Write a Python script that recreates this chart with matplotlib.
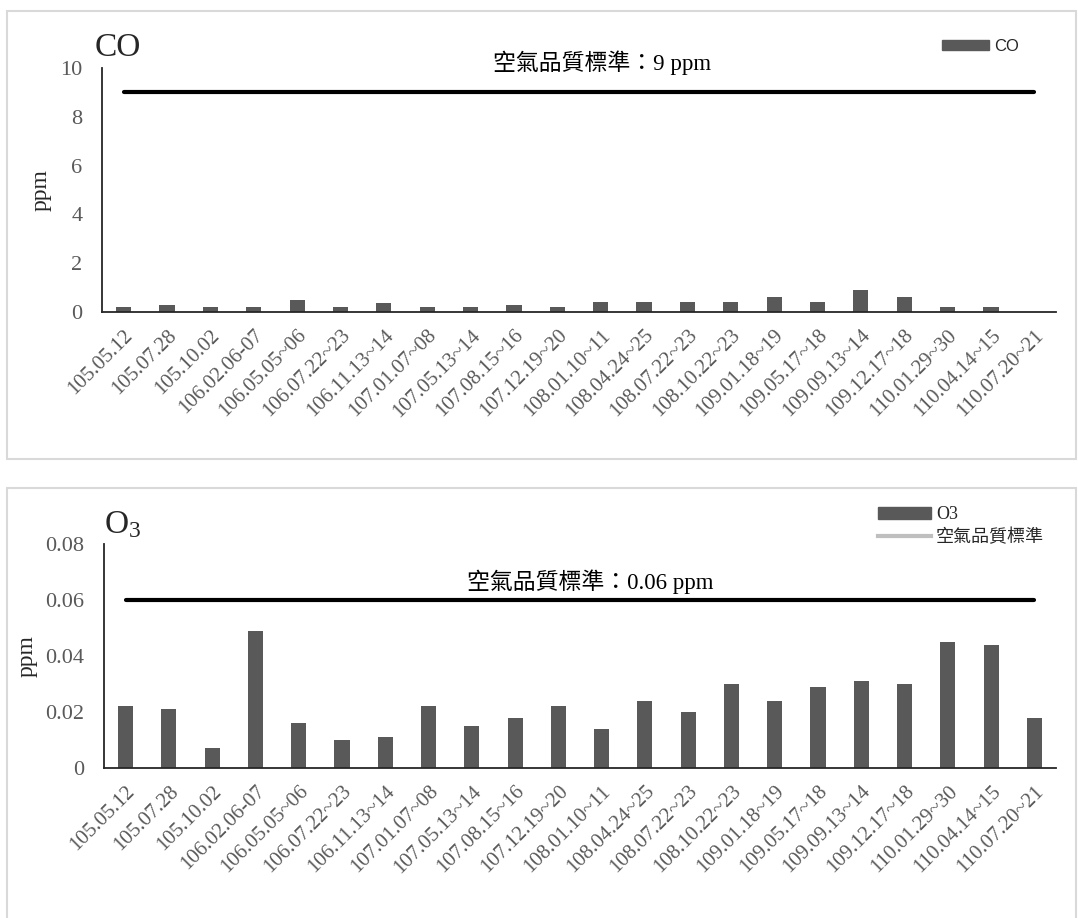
import numpy as np
import matplotlib
matplotlib.use('Agg')
import matplotlib.pyplot as plt
from matplotlib.patches import Rectangle, Patch
from matplotlib.lines import Line2D

plt.rcParams['font.family'] = ['Liberation Serif', 'Noto Sans CJK TC', 'DejaVu Sans']
plt.rcParams['mathtext.fontset'] = 'custom'
plt.rcParams['mathtext.rm'] = 'Liberation Serif'
plt.rcParams['mathtext.it'] = 'Liberation Serif:italic'

dates = ['105.05.12', '105.07.28', '105.10.02', '106.02.06-07', '106.05.05~06',
         '106.07.22~23', '106.11.13~14', '107.01.07~08', '107.05.13~14', '107.08.15~16',
         '107.12.19~20', '108.01.10~11', '108.04.24~25', '108.07.22~23', '108.10.22~23',
         '109.01.18~19', '109.05.17~18', '109.09.13~14', '109.12.17~18', '110.01.29~30',
         '110.04.14~15', '110.07.20~21']
co = [0.2, 0.3, 0.2, 0.2, 0.5, 0.2, 0.35, 0.2, 0.2, 0.3, 0.2,
      0.4, 0.4, 0.4, 0.4, 0.6, 0.4, 0.9, 0.6, 0.2, 0.2, 0.0]
o3 = [0.022, 0.021, 0.007, 0.049, 0.016, 0.010, 0.011, 0.022, 0.015, 0.018, 0.022,
      0.014, 0.024, 0.020, 0.030, 0.024, 0.029, 0.031, 0.030, 0.045, 0.044, 0.018]
co_std = 9
o3_std = 0.06

W, H = 1078, 918
fig = plt.figure(figsize=(W / 100, H / 100), dpi=100)

def fx(x):
    return x / W

def fy(y):
    return 1 - y / H

bar_color = '#595959'
tick_color = '#595959'
x = np.arange(len(dates))

# panel frames
fig.add_artist(Rectangle((fx(7), fy(459)), fx(1069), (459 - 11) / H, transform=fig.transFigure,
                         fill=False, edgecolor='#d9d9d9', lw=1.5))
fig.add_artist(Rectangle((fx(7), fy(930)), fx(1069), (930 - 488) / H, transform=fig.transFigure,
                         fill=False, edgecolor='#d9d9d9', lw=1.5))


def style_axes(ax, ymax, yticks, yfmt):
    ax.set_xlim(-0.5, len(dates) - 0.5)
    ax.set_ylim(0, ymax)
    ax.set_yticks(yticks)
    ax.set_yticklabels([yfmt(v) for v in yticks])
    ax.set_xticks(x)
    ax.set_xticklabels(dates, rotation=45, ha='right', rotation_mode='anchor')
    for s in ['top', 'right']:
        ax.spines[s].set_visible(False)
    for s in ['left', 'bottom']:
        ax.spines[s].set_color('#262626')
        ax.spines[s].set_linewidth(1.3)
    ax.tick_params(axis='y', length=0, pad=14, labelsize=16, labelcolor=tick_color)
    ax.tick_params(axis='x', length=0, pad=10, labelsize=15, labelcolor=tick_color)
    ax.set_ylabel('ppm', fontsize=17, color='#262626', labelpad=6)


# CO
ax1 = fig.add_axes([fx(102), fy(312), (1056 - 102) / W, (312 - 68) / H])
ax1.bar(x, co, width=0.35, color=bar_color)
ax1.plot(x, [co_std] * len(x), color='black', lw=3, solid_capstyle='round')
style_axes(ax1, 10, [0, 2, 4, 6, 8, 10], lambda v: '%d' % v)
fig.text(fx(95), fy(56), 'CO', fontsize=24, color='#262626', va='baseline')
fig.text(fx(602), fy(70), '空氣品質標準：9 ppm', fontsize=16.5, color='black',
         ha='center', va='baseline')
ax1.legend(handles=[Patch(color=bar_color, label='CO')], loc='upper left',
           bbox_to_anchor=(fx(927), fy(24)), bbox_transform=fig.transFigure,
           frameon=False, handlelength=2.8, handleheight=0.6, handletextpad=0.3,
           prop={'family': 'Liberation Sans', 'size': 12}, labelcolor='#262626')

# O3
ax2 = fig.add_axes([fx(104), fy(768), (1056 - 104) / W, (768 - 544) / H])
ax2.bar(x, o3, width=0.35, color=bar_color)
ax2.plot(x, [o3_std] * len(x), color='black', lw=3, solid_capstyle='round')
style_axes(ax2, 0.08, [0, 0.02, 0.04, 0.06, 0.08], lambda v: '0' if v == 0 else '%.2f' % v)
fig.text(fx(104), fy(533), r'O$_3$', fontsize=24, color='#262626', va='baseline')
fig.text(fx(590), fy(589), '空氣品質標準：0.06 ppm', fontsize=16.5, color='black',
         ha='center', va='baseline')
ax2.legend(handles=[Patch(color=bar_color, label='O3'),
                    Line2D([0], [0], color='#bfbfbf', lw=3, label='空氣品質標準')],
           loc='upper left', bbox_to_anchor=(fx(862), fy(490)), bbox_transform=fig.transFigure,
           frameon=False, handlelength=2.9, handleheight=0.6, handletextpad=0.3,
           labelspacing=0.3, prop={'size': 13}, labelcolor='#262626')

fig.savefig('out.png', dpi=100)
